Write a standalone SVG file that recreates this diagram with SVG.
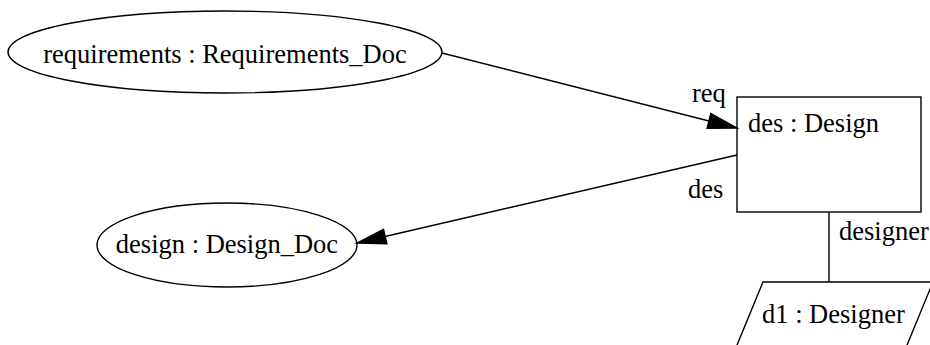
<svg xmlns="http://www.w3.org/2000/svg" width="930" height="345" viewBox="0 0 930 345">
  <style>
    .shape { fill: none; stroke: #000; stroke-width: 1.4; }
    .edge { fill: none; stroke: #000; stroke-width: 1.4; }
    .head { fill: #000; stroke: #000; stroke-width: 1.4; }
    text { font-family: "Liberation Serif", "Times New Roman", serif; font-size: 26.5px; fill: #000; }
  </style>
  <rect width="930" height="345" fill="#fff"/>

  <g id="connectors">
    <!-- requirements -> des (req) -->
    <line class="edge" x1="442" y1="53" x2="709" y2="121"/>
    <polygon class="head" points="737,128 707.1,128.2 710.8,113.6"/>
    <text x="692" y="102">req</text>
    <!-- des -> design (des) -->
    <line class="edge" x1="737" y1="155" x2="385" y2="236.5"/>
    <polygon class="head" points="357,243 386.9,243.8 383.5,229.2"/>
    <text x="688" y="198">des</text>
    <!-- des -> d1 (designer) -->
    <line class="edge" x1="829" y1="212" x2="829" y2="282"/>
    <text x="839" y="240">designer</text>
  </g>

  <g id="requirements">
    <ellipse class="shape" cx="225" cy="52" rx="217" ry="41"/>
    <text x="225" y="63" text-anchor="middle">requirements : Requirements_Doc</text>
  </g>

  <g id="design">
    <ellipse class="shape" cx="227" cy="245" rx="130" ry="42"/>
    <text x="227" y="253" text-anchor="middle">design : Design_Doc</text>
  </g>

  <g id="des">
    <rect class="shape" x="737" y="97" width="184" height="115"/>
    <text x="748" y="132">des : Design</text>
  </g>

  <g id="d1">
    <polygon class="shape" points="763,282 933,282 905,350 735,350"/>
    <text x="762" y="323">d1 : Designer</text>
  </g>
</svg>
